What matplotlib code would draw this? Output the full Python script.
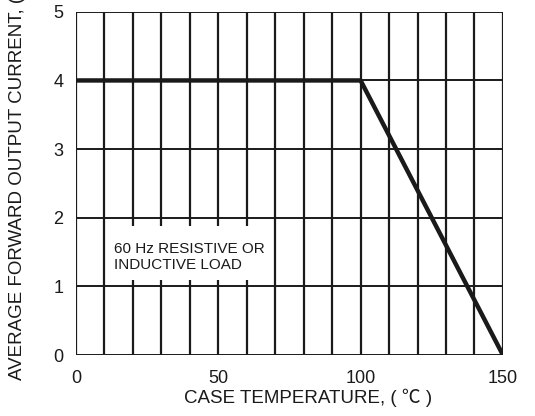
import matplotlib
matplotlib.use("Agg")
import matplotlib.pyplot as plt
from matplotlib.patches import Rectangle

# derating curve
temp = [0, 100, 150]
current = [4, 4, 0]

x_ticks = [0, 50, 100, 150]
y_ticks = [0, 1, 2, 3, 4, 5]
x_grid = list(range(0, 151, 10))
y_grid = [0, 1, 2, 3, 4, 5]

plt.rcParams['font.family'] = ['Liberation Sans', 'Noto Sans CJK JP', 'DejaVu Sans']

fig = plt.figure(figsize=(5.35, 4.16), dpi=100)
ax = fig.add_axes([0.142, 0.1466, 0.798, 0.825])

# grid
for gx in x_grid:
    ax.axvline(gx, color='#1a1a1a', lw=1.6, zorder=1)
for gy in y_grid:
    ax.axhline(gy, color='#1a1a1a', lw=1.4, zorder=1)

# white label box over grid
ax.add_patch(Rectangle((10.7, 1.1), 58.6, 0.78, facecolor='white', edgecolor='none', zorder=2))
ax.text(13.5, 1.43, "60 Hz RESISTIVE OR\nINDUCTIVE LOAD", fontsize=11, va='center', ha='left',
        linespacing=1.15, color='#1a1a1a', zorder=3)

ax.plot(temp, current, color='#1a1a1a', lw=3.2, solid_capstyle='butt', zorder=4)

ax.set_xlim(0, 150)
ax.set_ylim(0, 5)
ax.set_xticks(x_ticks)
ax.set_yticks(y_ticks)
ax.tick_params(length=0, labelsize=13, colors='#1a1a1a')
ax.tick_params(axis='x', pad=11)
ax.tick_params(axis='y', pad=9)
for s in ax.spines.values():
    s.set_visible(False)

fig.text(0.576, 0.031, "CASE TEMPERATURE, ( \u2103 )", fontsize=13.5, ha='center', va='baseline',
         color='#1a1a1a')
# y label runs off the top edge, as in the reference
fig.text(0.032, 0.0865, "AVERAGE FORWARD OUTPUT CURRENT, (A)", rotation=90, fontsize=13.5,
         ha='center', va='bottom', color='#1a1a1a')

fig.savefig("out.png", dpi=100)
